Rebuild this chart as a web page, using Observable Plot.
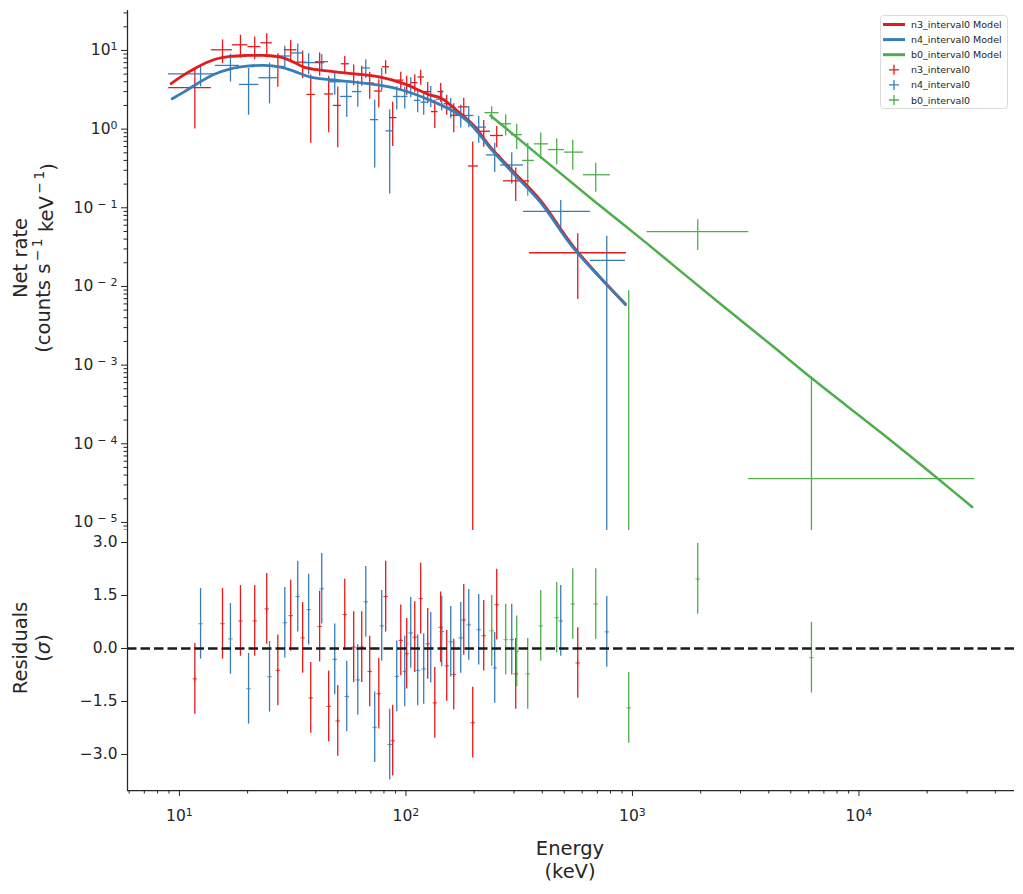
<!DOCTYPE html>
<html>
<head>
<meta charset="utf-8">
<script src="https://cdn.jsdelivr.net/npm/d3@7"></script>
<script src="https://cdn.jsdelivr.net/npm/@observablehq/plot@0.6"></script>
<style>
  body { margin: 0; background: #fff; font-family: "DejaVu Sans", sans-serif; }
  #chart { position: relative; width: 1023px; height: 894px; overflow: hidden; }
  #chart > svg { display: block; }
  .legend { position: absolute; left: 880px; top: 15px; }
</style>
</head>
<body>
<div id="chart"></div>
<script>
// ---- Detector names and colours ----
const detectors = ["n3_interval0", "n4_interval0", "b0_interval0"];
const detectorColors = ["#e41a1c", "#377eb8", "#4daf4a"];

// ---- n3 (NaI) spectrum: bin centres, bin edges (keV), net rate, 1σ error, residual ----
const n3Energy = [11.7, 15.5, 18.6, 21.5, 24.3, 27.2, 31.0, 35.0, 38.0, 41.6, 45.6, 50.0, 53.7, 58.8, 63.8, 69.2, 75.9, 81.4, 87.4, 94.9, 100.8, 109.4, 116.2, 124.8, 134.1, 142.4, 151.4, 162.6, 180.0, 197.2, 220.5, 251.7, 305.3, 573.6];
const n3Edges = [8.97, 13.84, 17.14, 20.07, 22.90, 25.74, 29.08, 33.03, 36.56, 39.85, 43.67, 47.86, 51.92, 56.31, 61.40, 66.59, 72.59, 78.77, 84.57, 91.26, 97.99, 105.2, 113.0, 120.7, 129.6, 138.5, 147.2, 157.2, 170.5, 188.8, 209.0, 236.1, 269.5, 351.1, 941];
const n3Rate = [3.36, 10.2, 11.8, 11.2, 12.5, 6.25, 10.2, 7.1, 2.76, 7.0, 2.8, 2.0, 6.77, 5.05, 4.9, 3.85, 3.05, 6.2, 1.4, 4.2, 3.7, 3.9, 4.6, 3.0, 1.67, 3.0, 2.1, 1.5, 1.92, 0.34, 0.94, 0.83, 0.22, 0.0268];
const n3Err = [2.36, 3.4, 3.8, 3.6, 3.8, 2.85, 3.2, 2.7, 2.1, 2.3, 1.9, 1.42, 1.6, 1.5, 1.4, 1.45, 1.2, 1.2, 0.8, 1.1, 1.0, 1.0, 1.0, 0.9, 0.65, 0.8, 0.6, 0.6, 0.55, 0.345, 0.35, 0.25, 0.1, 0.020];
const n3Resid = [-0.86, 0.70, 0.78, 0.78, 1.12, -0.62, 0.93, 0.30, -1.40, 0.62, -1.64, -2.05, 0.96, 0.04, 0.04, -0.65, -1.28, 1.47, -2.61, 0.23, -0.15, 0.32, 1.41, 0.13, -1.54, 0.60, -0.49, -0.74, 0.81, -2.10, 0.36, 1.24, -0.72, -0.41];

// ---- n4 (NaI) spectrum ----
const n4Energy = [12.4, 16.8, 20.2, 25.0, 29.2, 33.3, 37.2, 42.5, 48.5, 54.8, 61.3, 66.5, 72.8, 78.2, 84.8, 91.1, 98.8, 105.0, 112.7, 119.8, 128.7, 143.9, 157.7, 174.6, 189.4, 209.6, 246.6, 293.2, 482.5, 770.3];
const n4Edges = [8.94, 14.41, 18.40, 22.44, 27.08, 31.23, 35.28, 39.85, 45.48, 51.37, 58.03, 63.91, 69.71, 75.61, 81.64, 88.07, 95.04, 102.0, 109.0, 116.5, 124.4, 136.4, 151.0, 166.3, 182.2, 199.6, 226.7, 261.4, 330.3, 652.6, 931.4];
const n4Rate = [5.05, 6.45, 3.7, 4.5, 8.5, 9.3, 7.0, 7.2, 4.0, 2.6, 3.0, 6.0, 1.32, 4.5, 0.95, 2.6, 2.6, 3.5, 2.32, 2.2, 2.68, 2.4, 1.9, 1.53, 1.49, 1.06, 0.47, 0.35, 0.09, 0.0215];
const n4Err = [1.6, 2.5, 2.2, 2.4, 2.8, 2.8, 2.1, 1.65, 1.3, 1.2, 1.1, 1.6, 1.0, 1.4, 0.8, 0.85, 0.8, 1.0, 0.7, 0.7, 0.8, 0.7, 0.55, 0.5, 0.45, 0.4, 0.19, 0.15, 0.034, 0.022];
const n4Resid = [0.70, 0.27, -1.14, -0.80, 0.73, 1.47, 1.10, 1.69, -0.31, -1.36, -0.89, 1.32, -2.23, 0.64, -2.72, -0.79, -0.65, 0.44, -0.62, -0.58, 0.02, 0.48, 0.19, 0.30, 0.67, 0.53, -0.55, 0.25, 0.78, 0.47];

// ---- b0 (BGO) spectrum ----
const b0Energy = [239.2, 275.8, 308.4, 344.9, 393.7, 463.2, 545.1, 688.7, 963, 1942, 6170];
const b0Edges = [223.3, 257.4, 292.3, 326.9, 369.3, 425.7, 501.0, 607.6, 799.7, 1161, 3262, 32460];
const b0Rate = [1.62, 1.17, 0.85, 0.40, 0.65, 0.55, 0.51, 0.263, -0.004, 0.0497, 3.6e-5];
const b0Err = [0.31, 0.35, 0.3, 0.26, 0.24, 0.2, 0.21, 0.105, 0.0128, 0.021, 6.7e-4];
const b0Resid = [0.50, 0.25, -0.08, -0.72, 0.64, 0.87, 1.26, 1.26, -1.68, 1.97, -0.26];

// ---- Folded model curves ----
const n3ModelEnergy = [9.19, 10.1, 11.97, 14.17, 16.8, 19.9, 23.56, 27.92, 31.96, 35.39, 40.55, 55.01, 77.18, 97.79, 128.3, 142.0, 174.0, 199.2, 236.1, 289.3, 392.6, 550.7, 931.4];
const n3ModelRate = [3.78, 4.58, 6.13, 7.62, 8.39, 8.64, 8.64, 8.22, 7.10, 6.13, 5.69, 5.15, 4.58, 3.78, 2.70, 2.50, 1.58, 1.11, 0.590, 0.314, 0.124, 0.0317, 0.0059];
const n4ModelEnergy = [9.29, 10.45, 11.97, 14.17, 16.8, 19.9, 23.56, 27.92, 31.96, 37.88, 46.42, 65.13, 91.45, 128.3, 174.0, 199.2, 236.1, 289.3, 392.6, 550.7, 931.4];
const n4ModelRate = [2.43, 2.95, 3.78, 4.95, 5.85, 6.32, 6.45, 6.13, 5.46, 4.58, 4.24, 3.84, 3.26, 2.32, 1.49, 1.05, 0.568, 0.299, 0.117, 0.0305, 0.006];
const b0ModelEnergy = [236, 673, 1161, 2366, 4064, 6310, 12450, 22130, 31620];
const b0ModelRate = [1.49, 0.124, 0.035, 0.00647, 0.00184, 6.5e-4, 1.40e-4, 3.67e-5, 1.57e-5];

// ---- Axis ranges and ticks ----
const xDomain = [5.9, 48600];
const yDomain = [7.9e-6, 32.2];
const residDomain = [-4.02, 3.34];
const xMajor = [10, 100, 1000, 10000];
const yMajor = [1e-5, 1e-4, 1e-3, 1e-2, 1e-1, 1, 10];
const residTicks = [-3, -1.5, 0, 1.5, 3];

// ---- Tables built from the arrays ----
function spectrum(detector, energy, edges, rate, err, resid) {
  return energy.map((e, i) => ({detector, energy: e, lo: edges[i], hi: edges[i + 1], rate: rate[i], err: err[i], resid: resid[i]}));
}
const points = [
  ...spectrum(detectors[0], n3Energy, n3Edges, n3Rate, n3Err, n3Resid),
  ...spectrum(detectors[1], n4Energy, n4Edges, n4Rate, n4Err, n4Resid),
  ...spectrum(detectors[2], b0Energy, b0Edges, b0Rate, b0Err, b0Resid)
];
const curve = (detector, energy, rate) => energy.map((e, i) => ({detector, energy: e, rate: rate[i]}));
const n3Model = curve(detectors[0], n3ModelEnergy, n3ModelRate);
const n4Model = curve(detectors[1], n4ModelEnergy, n4ModelRate);
const b0Model = curve(detectors[2], b0ModelEnergy, b0ModelRate);

// minor log ticks (2..9 × 10^n) inside a domain
function minorTicks([lo, hi]) {
  const out = [];
  for (let n = Math.floor(Math.log10(lo)); n <= Math.ceil(Math.log10(hi)); n++)
    for (let k = 2; k <= 9; k++) {
      const v = k * Math.pow(10, n);
      if (v >= lo && v <= hi) out.push(v);
    }
  return out;
}
// "10^e" labels; the exponent is turned into a raised tspan afterwards
const powerLabel = d => "10^" + Math.round(Math.log10(d));
const noLabel = () => "";

const ink = "#262626";
const font = {fontFamily: "DejaVu Sans", fontSize: "15.5px", color: ink, background: "transparent"};
const colorScale = {domain: detectors, range: detectorColors};

// ---- Upper panel: net rate ----
const upper = Plot.plot({
  width: 1023, height: 530,
  marginTop: 10, marginBottom: 0, marginLeft: 127, marginRight: 9,
  style: font,
  x: {type: "log", domain: xDomain, axis: null},
  y: {type: "log", domain: yDomain, axis: null},
  color: colorScale,
  marks: [
    Plot.ruleY([yDomain[0]], {stroke: "#d0d0d0", strokeWidth: 1}),
    Plot.ruleX(points, {x: "energy", y1: d => Math.max(d.rate - d.err, yDomain[0]), y2: d => d.rate + d.err, stroke: "detector", strokeWidth: 1.3, clip: true}),
    Plot.ruleY(points, {y: "rate", x1: "lo", x2: "hi", stroke: "detector", strokeWidth: 1.3, clip: true}),
    Plot.line(n3Model, {x: "energy", y: "rate", stroke: "detector", strokeWidth: 2.8, curve: "catmull-rom"}),
    Plot.line(n4Model, {x: "energy", y: "rate", stroke: "detector", strokeWidth: 2.8, curve: "catmull-rom"}),
    Plot.line(b0Model, {x: "energy", y: "rate", stroke: "detector", strokeWidth: 2.5, curve: "catmull-rom"}),
    Plot.axisY({ticks: yMajor, tickFormat: powerLabel, tickSize: 6, tickPadding: 4, tickWidth: 1.1, label: null, stroke: ink}),
    Plot.axisY({ticks: minorTicks(yDomain), tickFormat: noLabel, tickSize: 3.5, tickWidth: 0.9, label: null, stroke: ink}),
    Plot.ruleX([xDomain[0]], {stroke: ink, strokeWidth: 1.25})
  ]
});

// ---- Lower panel: residuals ----
const lower = Plot.plot({
  width: 1023, height: 364,
  marginTop: 0, marginBottom: 104, marginLeft: 127, marginRight: 9,
  style: font,
  x: {type: "log", domain: xDomain, axis: null},
  y: {domain: residDomain, axis: null},
  color: colorScale,
  marks: [
    Plot.ruleX(points, {x: "energy", y1: d => d.resid - 1, y2: d => d.resid + 1, stroke: "detector", strokeWidth: 1.3}),
    Plot.dot(points, {x: "energy", y: "resid", symbol: "plus", r: 1.6, stroke: "detector", strokeWidth: 0.8}),
    Plot.ruleY([0], {stroke: "#1a1a1a", strokeWidth: 2.5, strokeDasharray: "9.5,4"}),
    Plot.axisY({ticks: residTicks, tickFormat: d => d.toFixed(1).replace("-", "\u2212"), tickSize: 6, tickPadding: 4, tickWidth: 1.1, label: null, stroke: ink}),
    Plot.axisX({ticks: xMajor, tickFormat: powerLabel, tickSize: 6, tickPadding: 13, tickWidth: 1.1, label: null, stroke: ink}),
    Plot.axisX({ticks: minorTicks(xDomain), tickFormat: noLabel, tickSize: 3.5, tickWidth: 0.9, label: null, stroke: ink}),
    Plot.ruleX([xDomain[0]], {stroke: ink, strokeWidth: 1.25}),
    Plot.ruleY([residDomain[0]], {stroke: ink, strokeWidth: 1.25})
  ]
});

const chart = document.getElementById("chart");
chart.append(upper, lower);

// append a raised exponent to a text node; a negative sign gets operator spacing
function exponent(t, value, gap) {
  if (value.startsWith("-")) {
    t.append("tspan").attr("dy", "-0.45em").attr("dx", gap).attr("font-size", "71%").text("\u2212");
    t.append("tspan").attr("dx", gap).attr("font-size", "71%").text(value.slice(1));
  } else {
    t.append("tspan").attr("dy", "-0.45em").attr("font-size", "71%").text(value);
  }
}

// raise the exponent of "10^e" tick labels
for (const svg of [upper, lower]) {
  d3.select(svg).selectAll("text").each(function() {
    const m = /^10\^(-?\d+)$/.exec(this.textContent);
    if (!m) return;
    const t = d3.select(this).text("");
    t.append("tspan").text("10");
    exponent(t, m[1], 4);
  });
}

// ---- Axis titles ----
function title(svg, lines, cy, rotate, size) {
  const g = d3.select(svg).append("g")
    .attr("font-family", "DejaVu Sans").attr("font-size", size).attr("fill", ink)
    .attr("text-anchor", "middle");
  lines.forEach(([x, parts]) => {
    const t = g.append("text")
      .attr("transform", rotate ? `translate(${x},${cy}) rotate(-90)` : `translate(${cy},${x})`)
      .attr("dominant-baseline", "central");
    parts.forEach(([txt, style]) => {
      if (style === "sup") { exponent(t, txt, 2.5); return; }
      const s = t.append("tspan").text(txt);
      if (style === "base") s.attr("dy", "0.45em");
      if (style === "italic") s.attr("font-style", "italic");
    });
  });
}
const labelSize = "19.5px";
title(upper, [
  [20, [["Net rate"]]],
  [43, [["(counts s"], ["-1", "sup"], [" keV", "base"], ["-1", "sup"], [")", "base"]]]
], 258, true, labelSize);
title(lower, [
  [20, [["Residuals"]]],
  [43, [["("], ["\u03C3", "italic"], [")"]]]
], 118, true, labelSize);
title(lower, [
  [318, [["Energy"]]],
  [341, [["(keV)"]]]
], 570, false, labelSize);

// ---- Legend ----
const legendRows = [
  {label: "n3_interval0 Model", color: detectorColors[0], kind: "line"},
  {label: "n4_interval0 Model", color: detectorColors[1], kind: "line"},
  {label: "b0_interval0 Model", color: detectorColors[2], kind: "line"},
  {label: "n3_interval0", color: detectorColors[0], kind: "plus"},
  {label: "n4_interval0", color: detectorColors[1], kind: "plus"},
  {label: "b0_interval0", color: detectorColors[2], kind: "plus"}
];
const legend = d3.select(chart).append("svg").attr("class", "legend")
  .attr("width", 130).attr("height", 96);
legend.append("rect").attr("x", 0.5).attr("y", 0.5).attr("width", 127).attr("height", 93).attr("rx", 3)
  .attr("fill", "rgba(255,255,255,0.8)").attr("stroke", "#dcdcdc");
legendRows.forEach((r, i) => {
  const cy = 9.5 + i * 15.1;
  if (r.kind === "line") {
    legend.append("line").attr("x1", 3).attr("x2", 25).attr("y1", cy).attr("y2", cy)
      .attr("stroke", r.color).attr("stroke-width", 3);
  } else {
    legend.append("path").attr("d", `M9,${cy}H19M14,${cy - 5}V${cy + 5}`)
      .attr("stroke", r.color).attr("stroke-width", 1.3).attr("fill", "none");
  }
  legend.append("text").attr("x", 31).attr("y", cy).attr("dominant-baseline", "central")
    .attr("font-family", "DejaVu Sans").attr("font-size", "9.5px").attr("fill", ink).text(r.label);
});
</script>
</body>
</html>
